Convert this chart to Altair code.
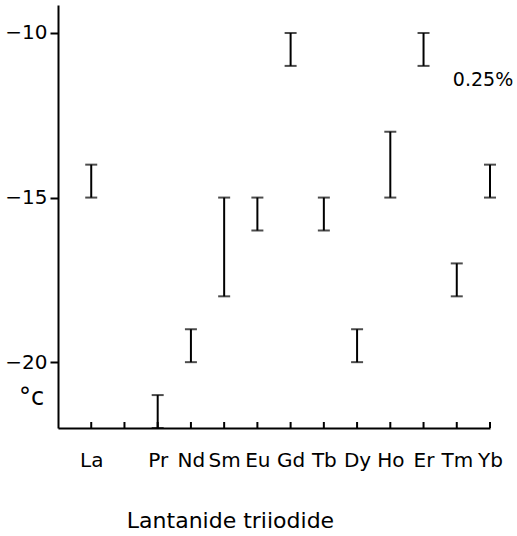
import altair as alt
import pandas as pd

elements = ["La", "Ce", "Pr", "Nd", "Sm", "Eu", "Gd", "Tb", "Dy", "Ho", "Er", "Tm", "Yb"]
shown = ["La", "Pr", "Nd", "Sm", "Eu", "Gd", "Tb", "Dy", "Ho", "Er", "Tm", "Yb"]
low = [-15, -22, -20, -18, -16, -11, -16, -20, -15, -11, -18, -15]
high = [-14, -21, -19, -15, -15, -10, -15, -19, -13, -10, -17, -14]
y_ticks = [-10, -15, -20]

FONT = "DejaVu Sans"
W, H = 432, 423

df = pd.DataFrame({
    "el": shown,
    "pos": [elements.index(e) for e in shown],
    "low": low,
    "high": high,
})
ticks_df = pd.DataFrame({"pos": list(range(len(elements)))})

label_expr = "[" + ",".join('"%s"' % (e if e != "Ce" else "") for e in elements) + "][datum.value]"

xscale = alt.Scale(domain=[-1, 12], nice=False, zero=False)
yscale = alt.Scale(domain=[-22, -9.15], nice=False, zero=False)

xaxis = alt.Axis(
    values=list(range(len(elements))),
    labelExpr=label_expr,
    ticks=False,
    grid=False,
    domainColor="black",
    domainWidth=2,
    labelFont=FONT,
    labelFontSize=20,
    labelColor="black",
    labelPadding=22,
    labelOverlap=False,
    labelBound=False,
    labelFlush=False,
    title="Lantanide  triiodide",
    titleFont=FONT,
    titleFontSize=22,
    titleFontWeight="normal",
    titleColor="black",
    titleX=172,
    titleY=92,
    titleAlign="center",
    titleBaseline="middle",
)
yaxis = alt.Axis(
    values=y_ticks,
    grid=False,
    domainColor="black",
    domainWidth=2,
    tickColor="black",
    tickWidth=2,
    tickSize=8,
    labelFont=FONT,
    labelFontSize=20,
    labelColor="black",
    labelPadding=3,
    title="°c",
    titleFont=FONT,
    titleFontSize=24,
    titleFontWeight="normal",
    titleColor="black",
    titleAngle=0,
    titleX=-27,
    titleY=392,
    titleAlign="center",
    titleBaseline="middle",
)

X = alt.X("pos:Q", scale=xscale, axis=xaxis)
base = alt.Chart(df)

bars = base.mark_rule(color="black", strokeWidth=2).encode(
    x=X,
    y=alt.Y("low:Q", scale=yscale, axis=yaxis),
    y2="high:Q",
)
caps_low = base.mark_tick(color="black", thickness=2, size=12, orient="horizontal").encode(
    x=X, y=alt.Y("low:Q", scale=yscale, axis=yaxis)
)
caps_high = base.mark_tick(color="black", thickness=2, size=12, orient="horizontal").encode(
    x=X, y=alt.Y("high:Q", scale=yscale, axis=yaxis)
)
xticks = alt.Chart(ticks_df).mark_rule(color="black", strokeWidth=2).encode(
    x=X, y=alt.value(H), y2=alt.value(H - 6)
)
note = alt.Chart(pd.DataFrame({"t": ["0.25%"]})).mark_text(
    font=FONT, fontSize=19, color="black", align="center", baseline="middle"
).encode(x=alt.value(425), y=alt.value(75), text="t:N")

chart = alt.layer(bars, caps_low, caps_high, xticks, note).properties(
    width=W,
    height=H,
    background="white",
    autosize=alt.AutoSizeParams(type="none"),
    padding={"left": 58, "top": 5, "right": 27, "bottom": 108},
).configure_view(strokeOpacity=0, strokeWidth=0).configure_axisX(
    labelOverlap=False
)

chart.save("out.html", embed_options={"renderer": "svg", "actions": False})
